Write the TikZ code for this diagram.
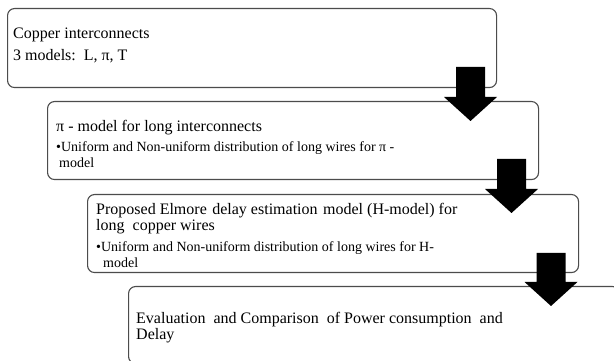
\documentclass[tikz,border=0pt]{standalone}
\usepackage{fontspec}
\setmainfont{Liberation Serif}
\usetikzlibrary{calc}
\newcommand\blockarrow[2]{%
  \fill[black] ($(#1)+(-14.5,0)$) -- ($(#1)+(14.5,0)$) -- ($(#2)+(14.5,24)$) --
    ($(#2)+(26.5,24)$) -- (#2) -- ($(#2)+(-26.5,24)$) -- ($(#2)+(-14.5,24)$) -- cycle;}
\begin{document}
\begin{tikzpicture}[x=1pt,y=1pt,
  box/.style={draw=black!70, line width=1.1pt, rounded corners=7pt, inner sep=0pt, anchor=north west},
  txt/.style={anchor=base west, inner sep=0pt, font=\fontsize{16}{19}\selectfont},
  sub/.style={anchor=base west, inner sep=0pt, font=\fontsize{14}{16}\selectfont},
]
\useasboundingbox (0,0) rectangle (614,361);
\clip (0,0) rectangle (614,361);
\fill[white] (0,0) rectangle (614,361);
% boxes
\node[box, minimum width=489pt, minimum height=79pt] (b1) at (7,353) {};
\node[box, minimum width=491pt, minimum height=78pt] (b2) at (47,260) {};
\node[box, minimum width=491pt, minimum height=78pt] (b3) at (87,167) {};
\node[box, minimum width=491pt, minimum height=77pt] (b4) at (128,75) {};
% texts
\node[txt] (t1a) at (13,322) {Copper interconnects};
\node[txt] (t1b) at (13,300) {3 models:\ \ L, π, T};
\node[txt] (t2a) at (56,229) {π - model\ for\ long\ interconnects};
\node[sub] (t2b) at (56,209) {•Uniform\ and Non-uniform distribution of long wires for π -};
\node[sub] (t2c) at (59,193) {model};
\node[txt] (t3a) at (96,146) {Proposed Elmore\hspace{1.5pt} delay estimation\hspace{1.5pt} model (H-model) for};
\node[txt] (t3b) at (96,130) {long\ \ copper wires};
\node[sub] (t3c) at (96,109) {•Uniform\ and Non-uniform distribution of long wires for H-};
\node[sub] (t3d) at (103,93) {model};
\node[txt] (t4a) at (136,37) {Evaluation\ \ and Comparison\ \ of Power consumption\ \ and};
\node[txt] (t4b) at (136,21) {Delay};
% arrows
\coordinate (a1s) at (470.5,294);
\coordinate (a1e) at (470.5,240);
\coordinate (a2s) at (511.5,202);
\coordinate (a2e) at (511.5,148);
\coordinate (a3s) at (551,108);
\coordinate (a3e) at (551,55);
\blockarrow{a1s}{a1e}
\blockarrow{a2s}{a2e}
\blockarrow{a3s}{a3e}
\end{tikzpicture}
\end{document}
